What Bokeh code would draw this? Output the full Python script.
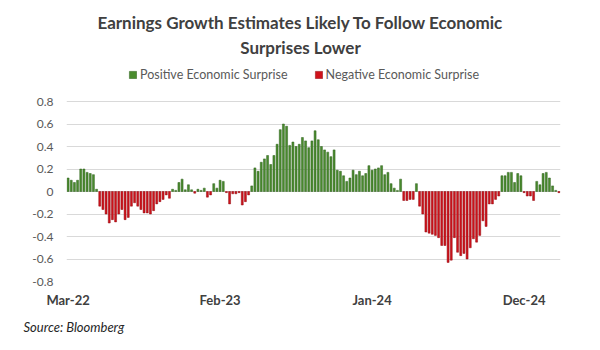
from bokeh.plotting import figure
from bokeh.models import (Range1d, FixedTicker, CustomJSTickFormatter, Label,
                          Legend, LegendItem, ColumnDataSource, Title)
from bokeh.embed import file_html
from bokeh.resources import INLINE

# Weekly economic surprise values, Mar-22 .. Feb-25
values = [0.12, 0.10, 0.08, 0.10, 0.20, 0.20, 0.17, 0.16, 0.15, 0.02,
          -0.13, -0.16, -0.20, -0.28, -0.25, -0.27, -0.20, -0.16, -0.25, -0.23,
          -0.13, -0.10, -0.13, -0.16, -0.19, -0.19, -0.20, -0.17, -0.11, -0.09,
          -0.07, -0.03, -0.06, 0.02, 0.01, 0.08, 0.11, 0.015, 0.06, 0.015,
          -0.015, 0.02, 0.01, 0.03, -0.05, -0.03, 0.07, 0.03, 0.10, 0.09,
          -0.01, -0.11, -0.02, -0.02, -0.01, -0.12, -0.09, -0.03, 0.05, 0.21,
          0.18, 0.26, 0.29, 0.32, 0.24, 0.32, 0.42, 0.55, 0.60, 0.58,
          0.41, 0.44, 0.40, 0.42, 0.48, 0.45, 0.39, 0.45, 0.54, 0.46,
          0.40, 0.37, 0.35, 0.31, 0.37, 0.19, 0.18, 0.14, 0.09, 0.12,
          0.19, 0.15, 0.18, 0.14, 0.16, 0.23, 0.19, 0.20, 0.21, 0.23,
          0.15, 0.17, 0.07, 0.03, 0.01, 0.11, -0.08, -0.08, -0.07, -0.07,
          0.07, -0.13, -0.20, -0.36, -0.37, -0.38, -0.39, -0.41, -0.48, -0.48,
          -0.63, -0.61, -0.41, -0.54, -0.57, -0.55, -0.60, -0.50, -0.42, -0.45,
          -0.39, -0.26, -0.31, -0.11, -0.11, -0.07, -0.04, 0.14, 0.14, 0.17,
          0.17, 0.08, 0.16, 0.14, -0.01, -0.04, -0.04, -0.08, 0.09, 0.06,
          0.16, 0.17, 0.12, 0.05, 0.01, -0.01]

tick_positions = [0, 48, 96, 144]
tick_labels = ["Mar-22", "Feb-23", "Jan-24", "Dec-24"]
y_ticks = [-0.8, -0.6, -0.4, -0.2, 0.0, 0.2, 0.4, 0.6, 0.8]

title_line1 = "Earnings Growth Estimates Likely To Follow Economic"
title_line2 = "Surprises Lower"
pos_label = "Positive Economic Surprise"
neg_label = "Negative Economic Surprise"
source_text = "Source: Bloomberg"

n = len(values)
xs = list(range(n))
pos_src = ColumnDataSource(dict(x=[x for x, v in zip(xs, values) if v >= 0],
                                top=[v for v in values if v >= 0]))
neg_src = ColumnDataSource(dict(x=[x for x, v in zip(xs, values) if v < 0],
                                top=[v for v in values if v < 0]))

FONT = "Lato"

# frame spans canvas y 0..281; data -0.8..0.8 occupies y 101..281
PLOT_BOTTOM = 281
ytop = 0.8 + 101 * (1.6 / 180)

p = figure(width=600, height=350, output_backend="svg", toolbar_location=None,
           x_range=Range1d(-0.5, n - 0.5), y_range=Range1d(-0.8, ytop),
           min_border_left=66, min_border_right=40, min_border_top=0,
           min_border_bottom=350 - PLOT_BOTTOM)
p.outline_line_color = None
p.background_fill_color = "white"
p.border_fill_color = "white"

green_r = p.vbar(x="x", top="top", bottom=0, width=0.62, source=pos_src,
                 fill_color="#4A8C2E", line_color="#2D5E1A", line_width=0.5)
red_r = p.vbar(x="x", top="top", bottom=0, width=0.62, source=neg_src,
               fill_color="#D0121B", line_color="#8E0A10", line_width=0.5)

# axes
p.xgrid.grid_line_color = None
p.ygrid.grid_line_color = "#D9D9D9"
p.ygrid.grid_line_width = 1
p.yaxis.ticker = FixedTicker(ticks=y_ticks)
p.yaxis.formatter = CustomJSTickFormatter(
    code="return Math.abs(tick) < 1e-9 ? '0' : tick.toFixed(1);")
p.yaxis.axis_line_color = None
p.yaxis.major_tick_line_color = None
p.yaxis.minor_tick_line_color = None
p.yaxis.major_tick_out = 0
p.yaxis.major_label_standoff = 13
p.yaxis.major_label_text_font = FONT
p.yaxis.major_label_text_font_size = "12px"
p.yaxis.major_label_text_color = "#595959"

p.xaxis.ticker = FixedTicker(ticks=tick_positions)
p.xaxis.major_label_overrides = {t: l for t, l in zip(tick_positions, tick_labels)}
p.xaxis.axis_line_color = None
p.xaxis.major_tick_line_color = None
p.xaxis.minor_tick_line_color = None
p.xaxis.major_tick_out = 0
p.xaxis.major_label_standoff = 10
p.xaxis.major_label_text_font = FONT
p.xaxis.major_label_text_font_style = "bold"
p.xaxis.major_label_text_font_size = "13px"
p.xaxis.major_label_text_color = "#404040"

# titles (screen units relative to frame bottom at canvas y=281)
fx = 300 - 66
for txt, cy in [(title_line1, 22), (title_line2, 47)]:
    p.add_layout(Label(x=fx, y=PLOT_BOTTOM - cy, x_units="screen", y_units="screen",
                       text=txt, text_align="center", text_baseline="middle",
                       text_font=FONT, text_font_style="bold",
                       text_font_size="17px", text_color="#404040"))

p.add_layout(Title(text=source_text, align="left", offset=-43, standoff=12,
                   text_font=FONT, text_font_style="italic",
                   text_font_size="13px", text_color="#262626"), "below")

legend = Legend(items=[LegendItem(label=pos_label, renderers=[green_r]),
                       LegendItem(label=neg_label, renderers=[red_r])],
                orientation="horizontal", location=(128 - 66, PLOT_BOTTOM - 82),
                glyph_width=9, glyph_height=9, label_standoff=3, spacing=26,
                padding=0, margin=0, border_line_color=None,
                background_fill_alpha=0, label_text_font=FONT,
                label_text_font_size="12.5px", label_text_color="#595959",
                label_height=14)
p.add_layout(legend, "center")

open("out.html", "w").write(file_html(p, INLINE))
